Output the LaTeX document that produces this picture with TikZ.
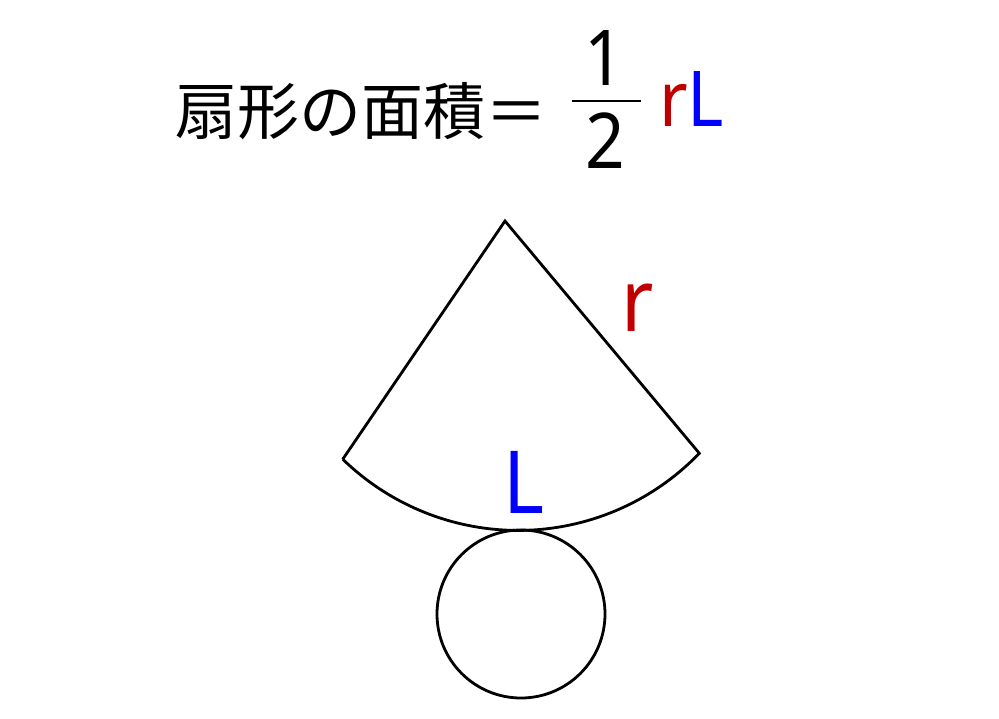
\documentclass[tikz,border=0pt]{standalone}
\usepackage{fontspec}
\setmainfont{Noto Sans CJK JP}
\newfontfamily\latinfont[FakeStretch=0.9]{Noto Sans}
\definecolor{myred}{RGB}{192,0,0}
\definecolor{myblue}{RGB}{0,0,255}
\tikzset{
  lbl/.style={inner sep=0pt, outer sep=0pt, anchor=base},
  outline/.style={line width=2.8pt, black, line join=miter},
  bigfont/.style={font=\latinfont\fontsize{77}{80}\selectfont},
  lblfont/.style={font=\latinfont\fontsize{87}{90}\selectfont},
}
\begin{document}
\begin{tikzpicture}[x=1pt, y=-1pt]
\useasboundingbox (0,0) rectangle (999,718);
% title
\node[lbl, anchor=base west, font=\fontsize{62}{70}\selectfont] (title) at (175,134) {扇形の面積＝};
\node[lbl, bigfont] (one) at (604,85) {1};
\node[lbl, bigfont] (two) at (605,168) {2};
\coordinate (barL) at (572,101);
\coordinate (barR) at (641,101);
\draw[line width=2.8pt] (barL) -- (barR);
\node[lbl, anchor=base west, bigfont] (rl) at (659,126) {\textcolor{myred}{r}\textcolor{myblue}{L}};
% sector
\coordinate (apex) at (505,221);
\coordinate (left) at (342.7,459.3);
\coordinate (right) at (699.3,453.3);
\draw[outline] (left) -- (apex) -- (right) arc[start angle=43.9, end angle=134.2, radius=251.5] -- cycle;
\node[lbl, text=myred, lblfont] (r) at (638,331) {r};
\node[lbl, text=myblue, lblfont] (L) at (524,513) {L};
% circle
\node[draw, circle, line width=2.8pt, minimum size=168pt, inner sep=0pt, outer sep=0pt] (base) at (521,614) {};
\end{tikzpicture}
\end{document}
